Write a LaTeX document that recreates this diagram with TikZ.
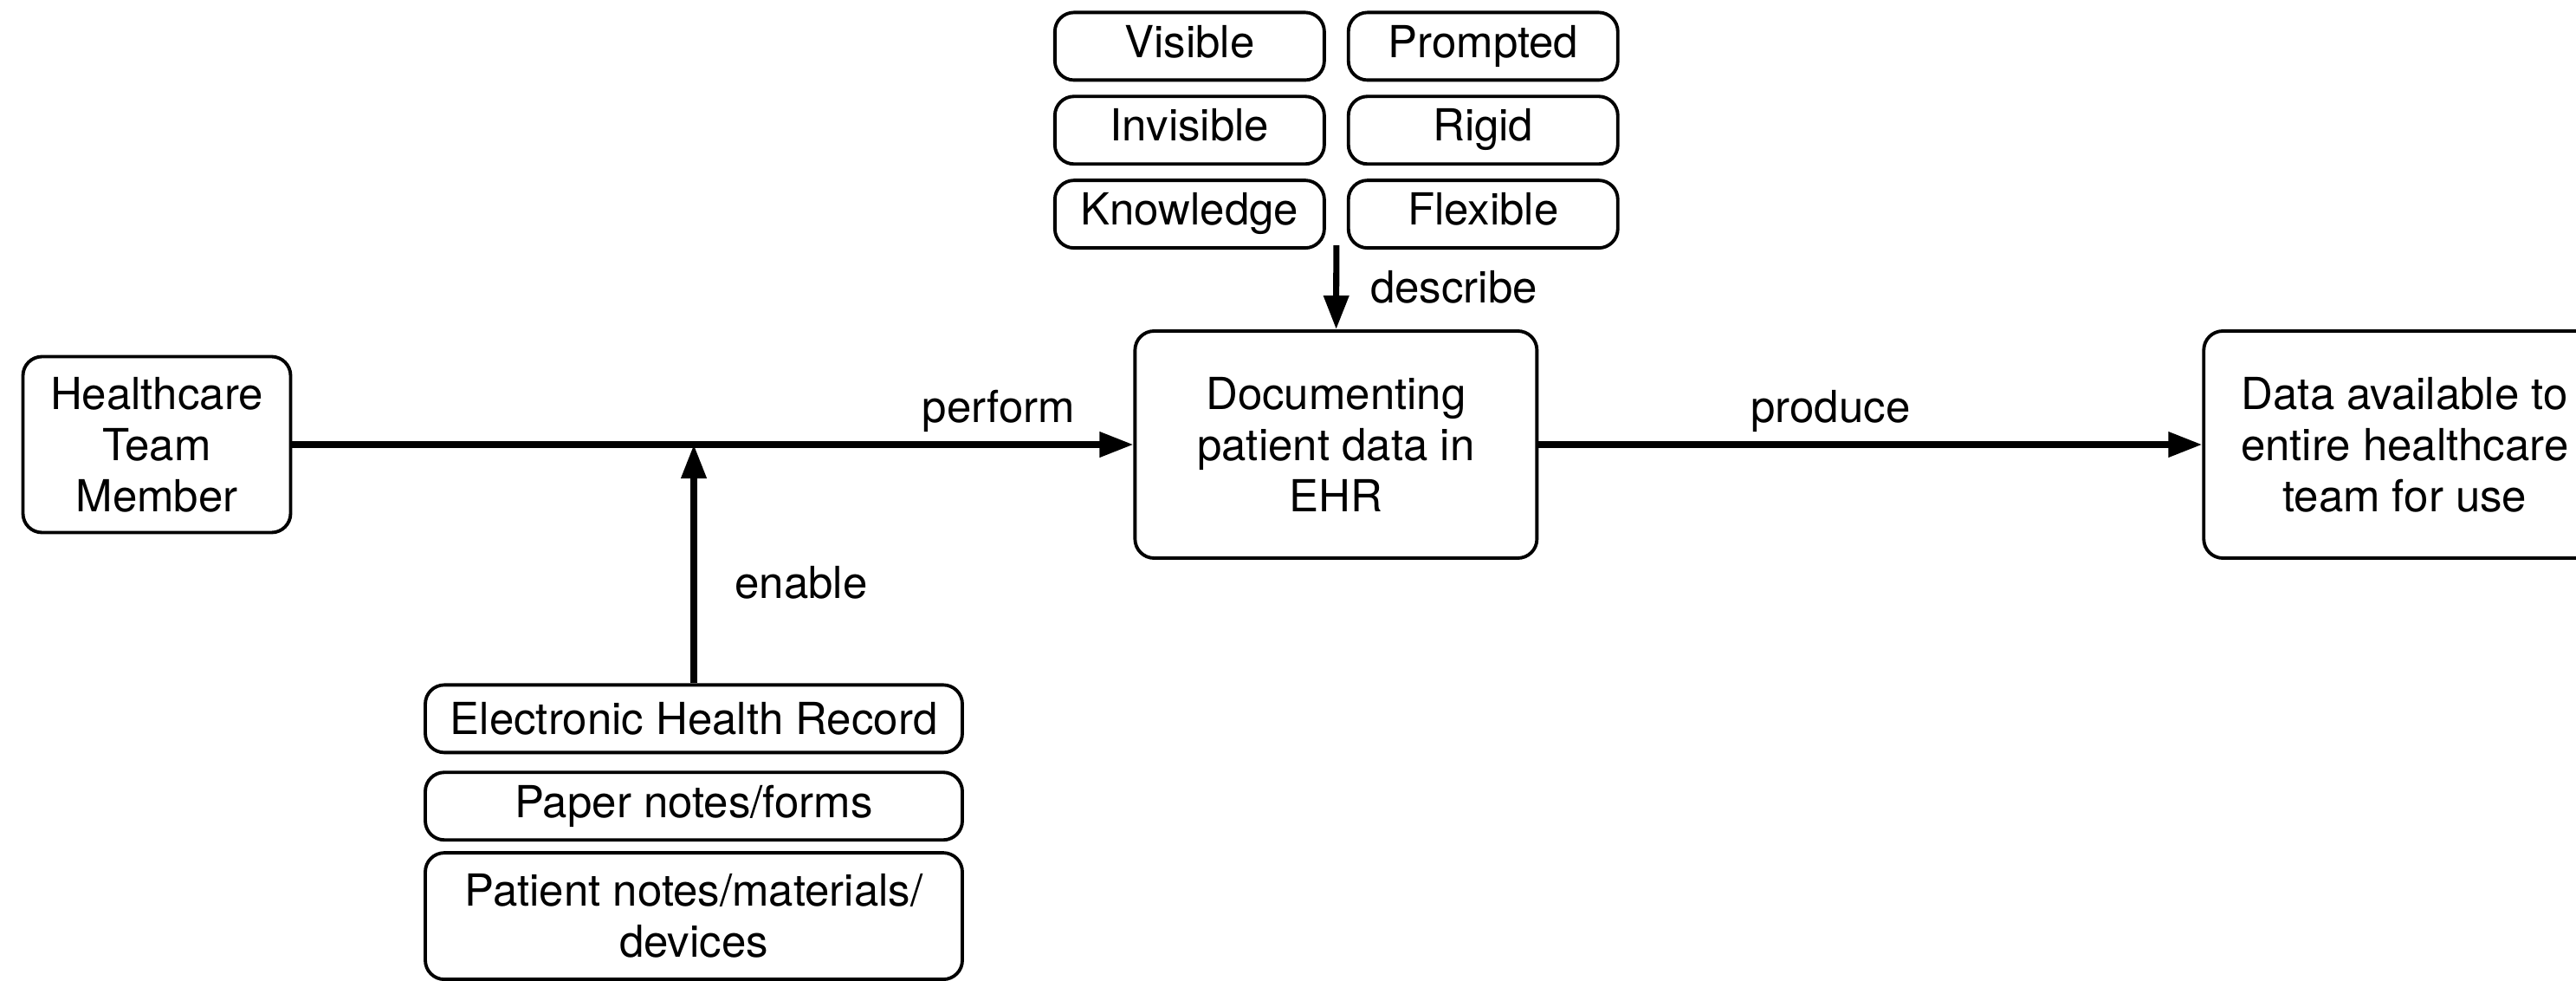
\documentclass[tikz,border=0pt]{standalone}
\usepackage{fontspec}
\setmainfont{TeX Gyre Heros}
\usetikzlibrary{positioning,arrows.meta,calc}

\begin{document}
\begin{tikzpicture}[
  node distance=1.5mm and 2.4mm,
  blk/.style={draw,line width=1.1pt,rounded corners=2.2mm,minimum width=46.4mm,minimum height=26.2mm,inner sep=0pt,align=center,font=\fontsize{14.5pt}{16.8pt}\selectfont},
  tag/.style={blk,minimum width=31.1mm,minimum height=7.8mm,text height=0.72em,text depth=0pt},
  src/.style={blk,minimum width=62mm,minimum height=7.8mm},
  lbl/.style={inner sep=0pt,font=\fontsize{14.5pt}{16.8pt}\selectfont},
  ar/.style={-{Triangle[length=3.9mm,width=2.8mm]},line width=2pt}]
\useasboundingbox (0,0) rectangle (29.74,-11.32);
% ---- member, activity, outcome ----
\node[blk,minimum width=30.9mm,minimum height=20.3mm] (htm) at (1.81,-5.13) {Healthcare\\Team\\Member};
\node[blk,right=97.1mm of htm] (doc) {Documenting\\patient data in\\EHR};
\node[blk,right=76.6mm of doc] (data) {Data available to\\entire healthcare\\team for use};
% ---- qualities of documentation ----
\node[tag,above=9.2mm of doc,xshift=-16.9mm] (know) {Knowledge};
\node[tag,above=of know] (invis) {Invisible};
\node[tag,above=of invis] (vis) {Visible};
\node[tag,right=of know] (flex) {Flexible};
\node[tag,right=of invis] (rigid) {Rigid};
\node[tag,right=of vis] (prompt) {Prompted};
% ---- enabling media ----
\node[src,below=17.2mm of htm,xshift=62mm] (ehr) {Electronic Health Record};
\node[src,below=1.9mm of ehr] (paper) {Paper notes/forms};
\node[src,below=1.1mm of paper,minimum height=14.6mm] (pat) {Patient notes/materials/\\devices};
% ---- connectors ----
\coordinate (join) at (ehr.north |- htm.east);
\coordinate (dsc) at ($(know.south east)!0.5!(flex.south west)+(0,0.5mm)$);
\draw[ar] (htm) -- node[lbl,pos=0.84,anchor=base,yshift=2.6mm] {perform} (doc);
\draw[ar] (doc) -- node[lbl,pos=0.44,anchor=base,yshift=2.6mm] {produce} (data);
\draw[ar] (ehr.north) -- node[lbl,pos=0.42,anchor=west,xshift=4.4mm] {enable} (join);
\draw[ar] (dsc) -- node[lbl,anchor=west,xshift=3.6mm] {describe} (doc);
\end{tikzpicture}
\end{document}
